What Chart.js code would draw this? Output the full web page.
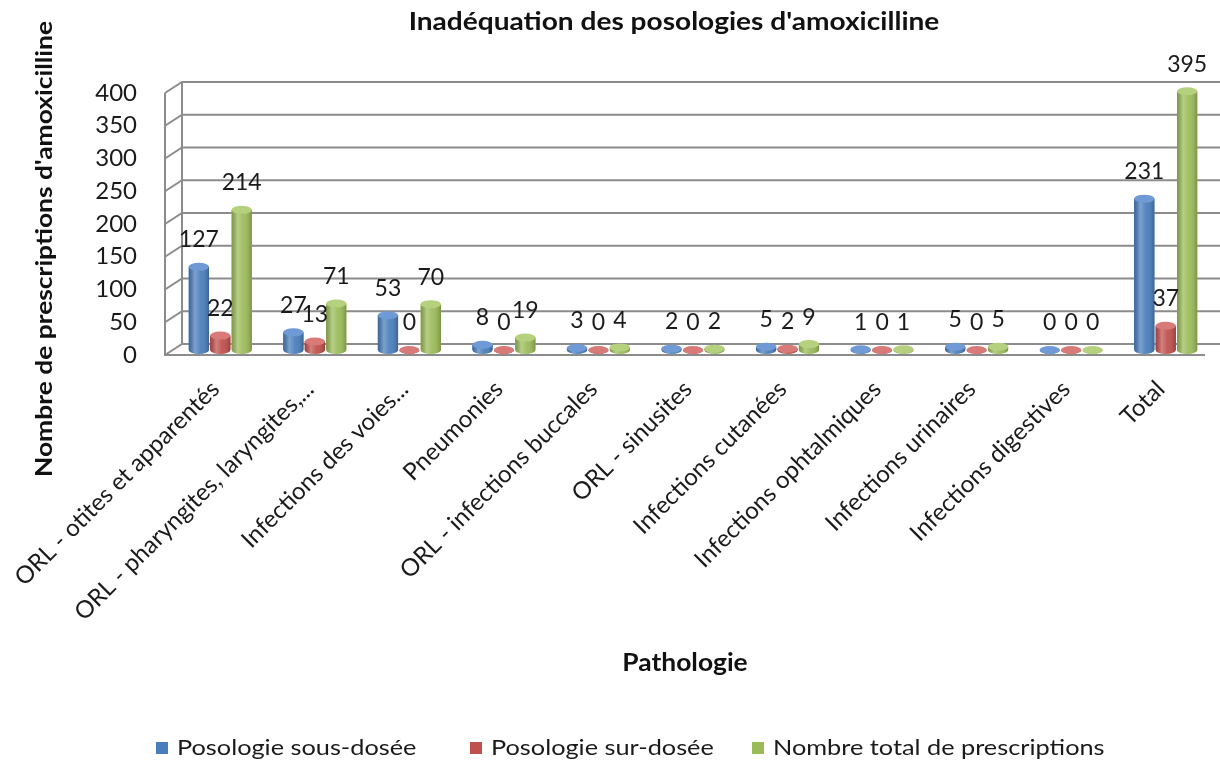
<!DOCTYPE html>
<html>
<head>
<meta charset="utf-8">
<script src="https://cdn.jsdelivr.net/npm/chart.js@4.4.1/dist/chart.umd.min.js"></script>
<style>
  html, body { margin: 0; padding: 0; background: #fff; }
  canvas { display: block; }
</style>
</head>
<body>
<canvas id="chart" width="1220" height="763"></canvas>
<script>
const categories = [
  'ORL - otites et apparentés',
  'ORL - pharyngites, laryngites,...',
  'Infections des voies...',
  'Pneumonies',
  'ORL - infections buccales',
  'ORL - sinusites',
  'Infections cutanées',
  'Infections ophtalmiques',
  'Infections urinaires',
  'Infections digestives',
  'Total'
];
const sousDosee = [127, 27, 53, 8, 3, 2, 5, 1, 5, 0, 231];
const surDosee = [22, 13, 0, 0, 0, 0, 2, 0, 0, 0, 37];
const totalPrescriptions = [214, 71, 70, 19, 4, 2, 9, 1, 5, 0, 395];
const seriesNames = ['Posologie sous-dosée', 'Posologie sur-dosée', 'Nombre total de prescriptions'];
const yTicks = [0, 50, 100, 150, 200, 250, 300, 350, 400];

const COLORS = ['#4A7EBB', '#C0504D', '#9BBB59'];
const CAPS = ['#6F9AD6', '#D87B78', '#B5D17E'];
const FONT = 'Lato, "Open Sans", sans-serif';
const DEPTH_X = 17, DEPTH_Y = -11;   // back wall offset
const BAR_X = 8, BAR_Y = -5;         // bars sit mid-depth

function shade(ctx, x, y, w, h, base) {
  ctx.fillStyle = base;
  ctx.fillRect(x, y, w, h);
  const g = ctx.createLinearGradient(x, 0, x + w, 0);
  g.addColorStop(0, 'rgba(0,0,0,0.18)');
  g.addColorStop(0.3, 'rgba(255,255,255,0.28)');
  g.addColorStop(0.6, 'rgba(255,255,255,0.05)');
  g.addColorStop(1, 'rgba(0,0,0,0.22)');
  ctx.fillStyle = g;
  ctx.fillRect(x, y, w, h);
}

// the original font is wider than Lato, so stretch text a little
function wideText(ctx, text, x, y, sx, rot) {
  ctx.save();
  ctx.translate(x, y);
  if (rot) ctx.rotate(rot);
  ctx.scale(sx, 1);
  ctx.fillText(text, 0, 0);
  ctx.restore();
}

const threeD = {
  id: 'threeD',
  beforeDatasetsDraw(chart) {
    const { ctx, chartArea: a, scales: { y } } = chart;
    ctx.save();
    ctx.strokeStyle = '#8C8C8C';
    ctx.lineWidth = 2;
    yTicks.forEach(t => {
      const py = y.getPixelForValue(t);
      ctx.beginPath();
      ctx.moveTo(a.left, py);
      ctx.lineTo(a.left + DEPTH_X, py + DEPTH_Y);
      ctx.lineTo(a.right + DEPTH_X, py + DEPTH_Y);
      ctx.stroke();
    });
    ctx.beginPath();
    ctx.moveTo(a.left, y.getPixelForValue(400));
    ctx.lineTo(a.left, a.bottom);
    ctx.lineTo(a.right, a.bottom);
    ctx.moveTo(a.left + DEPTH_X, y.getPixelForValue(400) + DEPTH_Y);
    ctx.lineTo(a.left + DEPTH_X, a.bottom + DEPTH_Y);
    ctx.stroke();
    ctx.restore();
    ctx.save();
    ctx.translate(BAR_X, BAR_Y);
  },
  afterDatasetsDraw(chart) {
    const { ctx } = chart;
    ctx.restore();
    ctx.save();
    ctx.translate(BAR_X, BAR_Y);
    chart.data.datasets.forEach((ds, di) => {
      chart.getDatasetMeta(di).data.forEach(bar => {
        const w = bar.width, x = bar.x - w / 2, top = bar.y, base = bar.base;
        const ry = 4;
        ctx.save();
        ctx.beginPath();
        ctx.rect(x, top, w, base - top);
        ctx.ellipse(bar.x, base, w / 2, ry, 0, 0, Math.PI);
        ctx.clip();
        shade(ctx, x, top, w, base - top + ry, COLORS[di]);
        ctx.restore();
        ctx.beginPath();
        ctx.ellipse(bar.x, top, w / 2, ry, 0, 0, Math.PI * 2);
        ctx.fillStyle = CAPS[di];
        ctx.fill();
      });
    });
    ctx.fillStyle = '#1a1a1a';
    ctx.font = '23px ' + FONT;
    ctx.textAlign = 'center';
    ctx.textBaseline = 'middle';
    chart.data.datasets.forEach((ds, di) => {
      chart.getDatasetMeta(di).data.forEach((bar, i) => {
        ctx.fillText(String(ds.data[i]), bar.x, bar.y - 27);
      });
    });
    ctx.restore();
  },
  afterDraw(chart) {
    const { ctx } = chart;
    ctx.save();
    ctx.fillStyle = '#111';
    ctx.textAlign = 'center';
    ctx.textBaseline = 'middle';
    ctx.font = 'bold 24px ' + FONT;
    wideText(ctx, "Inadéquation des posologies d'amoxicilline", 674, 22, 1.17);
    wideText(ctx, 'Pathologie', 685, 663, 1.1);
    ctx.font = 'bold 22px ' + FONT;
    wideText(ctx, "Nombre de prescriptions d'amoxicilline", 45, 249, 1.2, -Math.PI / 2);
    const lx = [156, 470, 752];
    ctx.font = '22px ' + FONT;
    ctx.textAlign = 'left';
    seriesNames.forEach((n, i) => {
      ctx.fillStyle = COLORS[i];
      ctx.fillRect(lx[i], 742, 12, 12);
      ctx.fillStyle = '#1a1a1a';
      wideText(ctx, n, lx[i] + 21, 748, 1.15);
    });
    ctx.restore();
  }
};

new Chart(document.getElementById('chart'), {
  type: 'bar',
  data: {
    labels: categories,
    datasets: [
      { label: seriesNames[0], data: sousDosee, backgroundColor: COLORS[0] },
      { label: seriesNames[1], data: surDosee, backgroundColor: COLORS[1] },
      { label: seriesNames[2], data: totalPrescriptions, backgroundColor: COLORS[2] }
    ]
  },
  options: {
    responsive: false,
    animation: false,
    devicePixelRatio: 1,
    layout: { padding: { top: 93, right: 15, left: 0, bottom: 0 } },
    datasets: { bar: { categoryPercentage: 0.68, barPercentage: 0.95, clip: false } },
    plugins: { legend: { display: false }, title: { display: false }, tooltip: { enabled: false } },
    scales: {
      x: {
        grid: { display: false },
        border: { display: false },
        ticks: {
          autoSkip: false, maxRotation: 45, minRotation: 45, labelOffset: 3, padding: 12,
          color: '#1a1a1a', font: { family: FONT, size: 24 }
        },
        afterFit: s => { s.height = 408; s.paddingLeft = 0; s.paddingRight = 0; }
      },
      y: {
        min: 0, max: 400,
        grid: { display: false },
        border: { display: false },
        ticks: { stepSize: 50, padding: 20, color: '#1a1a1a', font: { family: FONT, size: 24 } },
        afterFit: s => { s.width = 165; s.paddingTop = 0; s.paddingBottom = 0; }
      }
    }
  },
  plugins: [threeD]
});
</script>
</body>
</html>
